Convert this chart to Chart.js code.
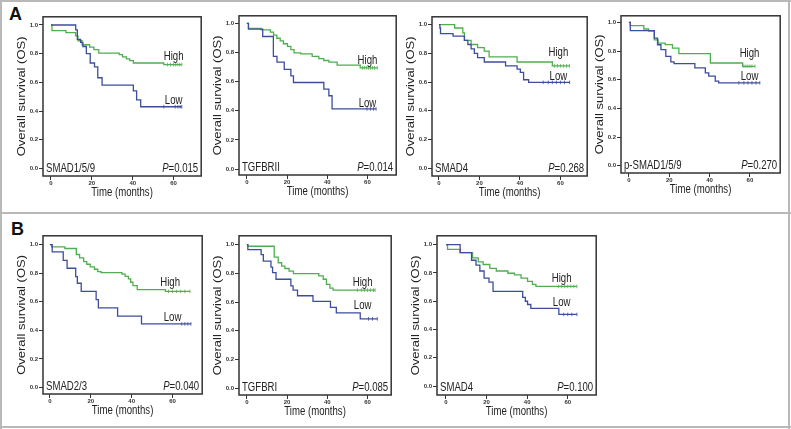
<!DOCTYPE html>
<html>
<head>
<meta charset="utf-8">
<script src="https://cdn.jsdelivr.net/npm/chart.js@4.4.1/dist/chart.umd.min.js"></script>
<style>
  body { margin: 0; background: #fff; }
  #fig { position: relative; width: 791px; height: 429px; overflow: hidden; font-family: "Liberation Sans", Arial, sans-serif; }
  .rule { position: absolute; background: #b8b8b8; }
  .letter { position: absolute; font-weight: bold; font-size: 18px; color: #111; line-height: 1; }
  canvas { position: absolute; }
</style>
</head>
<body>
<div id="fig">
  <div class="rule" style="left:0;top:0;width:791px;height:1.5px"></div>
  <div class="rule" style="left:0;top:0;width:1.5px;height:429px"></div>
  <div class="rule" style="left:788px;top:0;width:1.5px;height:429px"></div>
  <div class="rule" style="left:0;top:212px;width:791px;height:1.5px"></div>
  <div class="rule" style="left:0;top:426px;width:791px;height:1.5px"></div>
  <div class="letter" style="left:9px;top:5px">A</div>
  <div class="letter" style="left:11px;top:220px">B</div>
</div>
<script>
// ---- data (time in months, overall survival) ----
const geneLabels = ['SMAD1/5/9', 'TGFBRII', 'SMAD4', 'p-SMAD1/5/9', 'SMAD2/3', 'TGFBRI', 'SMAD4'];
const pValues = ['0.015', '0.014', '0.268', '0.270', '0.040', '0.085', '0.100'];
const xTicks = [0, 20, 40, 60];
const yTicks = [0, 0.2, 0.4, 0.6, 0.8, 1.0];

// A: SMAD1/5/9
const p1HighT = [0, 0.5, 7.3, 12.1, 13.2, 15.2, 18.9, 21, 23.4, 33.4, 35, 36.9, 38.5, 40.3, 55.2, 64];
const p1HighS = [1, 0.96, 0.947, 0.924, 0.89, 0.862, 0.846, 0.828, 0.804, 0.793, 0.777, 0.763, 0.752, 0.735, 0.724, 0.724];
const p1HighC = [57, 58.5, 60, 61, 62, 63, 64];
const p1LowT = [0, 12.1, 12.9, 14.5, 15.6, 17.3, 19.2, 21.3, 22.9, 25, 40.3, 41.9, 43.9, 64];
const p1LowS = [1, 0.966, 0.9, 0.878, 0.85, 0.8, 0.735, 0.708, 0.632, 0.58, 0.54, 0.478, 0.43, 0.43];
const p1LowC = [55.2, 60.8, 62.1, 63.2, 64];

// A: TGFBRII
const p2HighT = [0, 0.8, 7.1, 11.7, 13.3, 14.9, 16.6, 18.2, 20.2, 21.9, 23.5, 26.8, 32.5, 35.8, 38.3, 40.8, 44.9, 56.4, 64.9];
const p2HighS = [1, 0.966, 0.955, 0.94, 0.92, 0.898, 0.88, 0.86, 0.842, 0.82, 0.797, 0.79, 0.774, 0.758, 0.745, 0.734, 0.713, 0.695, 0.695];
const p2HighC = [57.5, 58.5, 59.5, 60.5, 61.5, 62.5, 63.5, 64.9];
const p2LowT = [0, 0.8, 7.9, 13.2, 15, 18.6, 21.9, 23.2, 38.3, 40.8, 42.4, 64.3];
const p2LowS = [1, 0.96, 0.91, 0.774, 0.734, 0.684, 0.639, 0.594, 0.549, 0.503, 0.413, 0.413];
const p2LowC = [59.8, 61.5, 63, 64.3];

// A: SMAD4
const p3HighT = [0, 7.8, 11.8, 12.6, 15.9, 19.1, 22.4, 24.8, 38.6, 56, 64.5];
const p3HighS = [1, 0.977, 0.943, 0.89, 0.862, 0.84, 0.816, 0.775, 0.74, 0.713, 0.713];
const p3HighC = [57, 58.5, 60, 61.5, 63, 64.5];
const p3LowT = [0, 0.5, 0.8, 7, 12.6, 14.3, 15.9, 17.5, 19.1, 22.4, 32.9, 38.6, 40.2, 41.8, 44.3, 64.5];
const p3LowS = [1, 0.977, 0.938, 0.92, 0.89, 0.862, 0.832, 0.8, 0.77, 0.74, 0.713, 0.69, 0.667, 0.616, 0.598, 0.598];
const p3LowC = [51.5, 54, 56, 58, 60, 62, 64.5];

// A: p-SMAD1/5/9
const p4HighT = [0, 0.7, 7.4, 9.8, 12.6, 14.5, 18, 21.6, 24.8, 40.4, 56.4, 62.5];
const p4HighS = [1, 0.977, 0.954, 0.94, 0.878, 0.855, 0.845, 0.82, 0.782, 0.717, 0.694, 0.694];
const p4HighC = [57, 58, 59, 60, 61, 62.5];
const p4LowT = [0, 0.7, 12.6, 14.2, 15.9, 18.3, 20.8, 22.4, 32.7, 37.9, 39.6, 42.8, 44.5, 64.9];
const p4LowS = [1, 0.943, 0.89, 0.844, 0.81, 0.763, 0.725, 0.713, 0.683, 0.648, 0.625, 0.59, 0.579, 0.579];
const p4LowC = [54.5, 57, 59, 61, 63, 64.9];

// B: SMAD2/3
const p5HighT = [0, 0.8, 7.3, 12.9, 14.5, 16.5, 18, 19.7, 21.8, 23.4, 25, 35.2, 36.8, 38.4, 39.5, 40.6, 42.7, 56.5, 68.5];
const p5HighS = [1, 0.984, 0.973, 0.931, 0.908, 0.881, 0.863, 0.844, 0.828, 0.812, 0.805, 0.794, 0.778, 0.76, 0.737, 0.714, 0.686, 0.673, 0.673];
const p5HighC = [58, 60, 62, 64, 66, 68.5];
const p5LowT = [0, 1.1, 6.5, 8.4, 12.6, 13.4, 15.3, 22.6, 23.7, 33.1, 44.8, 69];
const p5LowS = [1, 0.95, 0.89, 0.835, 0.776, 0.73, 0.673, 0.616, 0.558, 0.5, 0.446, 0.446];
const p5LowC = [64.5, 66, 67.5, 69];

// B: TGFBRI
const p6HighT = [0, 0.5, 13.6, 15.6, 17.3, 18.9, 21, 23.2, 35.8, 38, 39.6, 41.3, 42.9, 63.8];
const p6HighS = [1, 0.989, 0.913, 0.874, 0.85, 0.834, 0.816, 0.798, 0.782, 0.759, 0.724, 0.697, 0.683, 0.683];
const p6HighC = [55, 57, 58.5, 60, 61.5, 63, 63.8];
const p6LowT = [0, 0.5, 7.1, 8.2, 12, 12.8, 14.5, 21.9, 23, 25.2, 32.9, 41.6, 44.5, 56.4, 64.9];
const p6LowS = [1, 0.966, 0.931, 0.885, 0.844, 0.805, 0.759, 0.713, 0.683, 0.644, 0.605, 0.563, 0.524, 0.483, 0.483];
const p6LowC = [60.5, 62.5, 64.9];

// B: SMAD4
const p7HighT = [0, 0.8, 7, 13.1, 15.9, 18.3, 21.6, 24.8, 30.5, 33.7, 37, 40.2, 42.6, 44.3, 64.5];
const p7HighS = [1, 0.967, 0.944, 0.907, 0.879, 0.86, 0.833, 0.814, 0.798, 0.786, 0.763, 0.74, 0.72, 0.705, 0.705];
const p7HighC = [55.5, 57, 58.5, 60, 61.5, 63, 64.5];
const p7LowT = [0, 7, 12.6, 14.8, 16.7, 18.8, 21.2, 23.2, 37.8, 39.1, 40.2, 41.8, 55.6, 64.5];
const p7LowS = [1, 0.944, 0.89, 0.856, 0.814, 0.763, 0.735, 0.67, 0.628, 0.6, 0.577, 0.549, 0.507, 0.507];
const p7LowC = [58, 60, 62, 64.5];

const curves = [
  [p1HighT, p1HighS, p1HighC, p1LowT, p1LowS, p1LowC],
  [p2HighT, p2HighS, p2HighC, p2LowT, p2LowS, p2LowC],
  [p3HighT, p3HighS, p3HighC, p3LowT, p3LowS, p3LowC],
  [p4HighT, p4HighS, p4HighC, p4LowT, p4LowS, p4LowC],
  [p5HighT, p5HighS, p5HighC, p5LowT, p5LowS, p5LowC],
  [p6HighT, p6HighS, p6HighC, p6LowT, p6LowS, p6LowC],
  [p7HighT, p7HighS, p7HighC, p7LowT, p7LowS, p7LowC],
];

// ---- layout: plot box in page pixels, axis ranges, label anchors (data coords) ----
const boxes = [
  { l: 43, t: 15, r: 203, b: 176, x: [-3.9, 73.5], y: [-0.053, 1.057], hi: [60, 0.778], lo: [60, 0.47] },
  { l: 239, t: 14, r: 398, b: 175, x: [-3.9, 74.3], y: [-0.041, 1.052], hi: [60, 0.745], lo: [60, 0.45] },
  { l: 432, t: 15, r: 589, b: 176, x: [-3.4, 73.2], y: [-0.055, 1.055], hi: [59, 0.807], lo: [59, 0.64] },
  { l: 621, t: 14, r: 782, b: 173, x: [-3.9, 75], y: [-0.05, 1.046], hi: [59.8, 0.78], lo: [59.8, 0.62] },
  { l: 43, t: 234, r: 204, b: 394, x: [-3.4, 74.5], y: [-0.045, 1.062], hi: [58.8, 0.734], lo: [60, 0.487] },
  { l: 239, t: 234, r: 393, b: 395, x: [-3.9, 71.8], y: [-0.048, 1.062], hi: [57.6, 0.738], lo: [57.6, 0.576] },
  { l: 437, t: 234, r: 598, b: 395, x: [-4.4, 74], y: [-0.063, 1.063], hi: [57, 0.757], lo: [57, 0.593] },
];

const GREEN = '#4fae4f';
const BLUE = '#3d4d9c';
const INK = '#222';
const FONT = '"Liberation Sans", Arial, sans-serif';
const SQUEEZE = 0.8;
const L = 36, B = 26, PAD = 3;

function stepAt(T, S, t) {
  let v = S[0];
  for (let i = 0; i < T.length; i++) if (T[i] <= t) v = S[i];
  return v;
}

function squeezedText(ctx, str, x, y, align) {
  ctx.save();
  ctx.translate(x, y);
  ctx.scale(SQUEEZE, 1);
  ctx.textAlign = align;
  ctx.fillText(str, 0, 0);
  ctx.restore();
}

const panelText = {
  id: 'panelText',
  afterDraw(chart, args, o) {
    const { ctx, chartArea: a, scales } = chart;
    ctx.save();
    ctx.strokeStyle = '#333';
    ctx.lineWidth = 1.5;
    ctx.strokeRect(a.left, a.top, a.right - a.left, a.bottom - a.top);

    ctx.fillStyle = INK;
    ctx.textBaseline = 'middle';
    ctx.font = '12px ' + FONT;
    squeezedText(ctx, o.gene, a.left + 3, a.bottom - 7, 'left');
    // P value, italic P
    const rest = '=' + o.p;
    const restW = ctx.measureText(rest).width * SQUEEZE;
    squeezedText(ctx, rest, a.right - 3, a.bottom - 7, 'right');
    ctx.font = 'italic 12px ' + FONT;
    squeezedText(ctx, 'P', a.right - 3 - restW, a.bottom - 7, 'right');

    ctx.font = '12px ' + FONT;
    squeezedText(ctx, 'High', scales.x.getPixelForValue(o.hi[0]), scales.y.getPixelForValue(o.hi[1]), 'center');
    squeezedText(ctx, 'Low', scales.x.getPixelForValue(o.lo[0]), scales.y.getPixelForValue(o.lo[1]), 'center');

    // axis titles
    squeezedText(ctx, 'Time (months)', (a.left + a.right) / 2, a.bottom + 17, 'center');
    ctx.save();
    ctx.translate(a.left - 21, (a.top + a.bottom) / 2);
    ctx.scale(SQUEEZE, 1);
    ctx.rotate(-Math.PI / 2);
    ctx.textAlign = 'center';
    ctx.font = '13px ' + FONT;
    ctx.fillText('Overall survival (OS)', 0, 0);
    ctx.restore();
    ctx.restore();
  }
};

const fig = document.getElementById('fig');

boxes.forEach((bx, i) => {
  const [hT, hS, hC, lT, lS, lC] = curves[i];
  const canvas = document.createElement('canvas');
  const w = bx.r - bx.l + L + PAD;
  const h = bx.b - bx.t + PAD + B;
  canvas.width = w;
  canvas.height = h;
  canvas.style.width = w + 'px';
  canvas.style.height = h + 'px';
  canvas.style.left = (bx.l - L) + 'px';
  canvas.style.top = (bx.t - PAD) + 'px';
  fig.appendChild(canvas);

  const line = (T, S, color) => ({
    type: 'line',
    data: T.map((t, k) => ({ x: t, y: S[k] })),
    borderColor: color,
    borderWidth: 1.3,
    stepped: 'before',
    pointRadius: 0,
    fill: false,
  });
  const marks = (C, T, S, color) => ({
    type: 'scatter',
    data: C.map(t => ({ x: t, y: stepAt(T, S, t) })),
    borderColor: color,
    backgroundColor: color,
    pointStyle: 'line',
    rotation: 90,
    radius: 1.8,
    borderWidth: 0.8,
  });

  new Chart(canvas.getContext('2d'), {
    type: 'line',
    data: {
      datasets: [
        line(lT, lS, BLUE),
        line(hT, hS, GREEN),
        marks(lC, lT, lS, BLUE),
        marks(hC, hT, hS, GREEN),
      ],
    },
    options: {
      responsive: false,
      animation: false,
      layout: { padding: { left: 0, right: PAD, top: PAD, bottom: 0 } },
      plugins: {
        legend: { display: false },
        tooltip: { enabled: false },
        panelText: { gene: geneLabels[i], p: pValues[i], hi: bx.hi, lo: bx.lo },
      },
      scales: {
        x: {
          type: 'linear',
          min: bx.x[0],
          max: bx.x[1],
          afterBuildTicks: s => { s.ticks = xTicks.map(v => ({ value: v })); },
          afterFit: s => { s.height = B; },
          grid: { drawOnChartArea: false, drawTicks: true, tickLength: 4, color: '#333', lineWidth: 1 },
          border: { display: false },
          ticks: { font: { size: 6, weight: 'bold', family: FONT }, color: '#333', padding: 0, maxRotation: 0 },
        },
        y: {
          type: 'linear',
          min: bx.y[0],
          max: bx.y[1],
          afterBuildTicks: s => { s.ticks = yTicks.map(v => ({ value: v })); },
          afterFit: s => { s.width = L; },
          grid: { drawOnChartArea: false, drawTicks: true, tickLength: 4, color: '#333', lineWidth: 1 },
          border: { display: false },
          ticks: { font: { size: 6, weight: 'bold', family: FONT }, color: '#333', padding: 1, callback: v => v.toFixed(1) },
        },
      },
    },
    plugins: [panelText],
  });
});
</script>
</body>
</html>
